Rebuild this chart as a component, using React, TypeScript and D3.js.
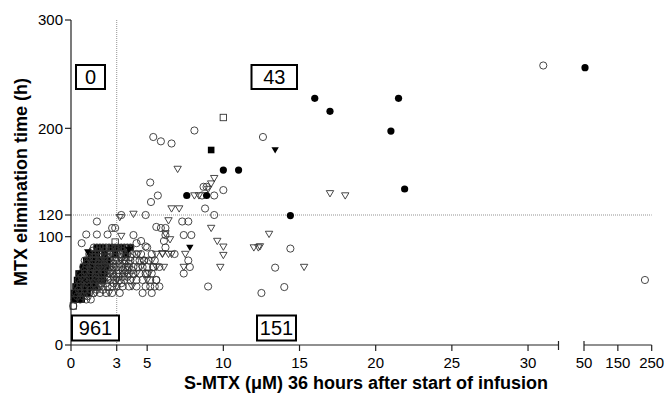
import React from "react";
import * as d3 from "d3";

// ---------- data ----------
type P = [number, number];

const yTicks = [0, 100, 120, 200, 300];
const xTicksLeft = [0, 3, 5, 10, 15, 20, 25, 30];
const xTicksRight = [50, 150, 250];
const quadrantLabels = ["0", "43", "961", "151"];
const xCut = 3;
const yCut = 120;

// dense cluster, one row per elimination time (h)
const clusterRowTimes = [36, 42, 48, 54, 60, 66, 72, 78, 84, 90];
const clusterFilledSquareX: number[][] = [
  [],
  [0.2, 0.35, 0.5, 0.7],
  [0.2, 0.35, 0.5, 0.65, 0.8, 0.95, 1.1],
  [0.3, 0.45, 0.6, 0.75, 0.9, 1.05, 1.2, 1.4, 1.6],
  [0.4, 0.55, 0.7, 0.85, 1.0, 1.15, 1.3, 1.5, 1.7, 1.9, 2.1],
  [0.5, 0.65, 0.8, 0.95, 1.1, 1.3, 1.5, 1.7, 1.9, 2.2],
  [0.8, 1.0, 1.2, 1.4, 1.6, 1.9, 2.3],
  [1.0, 1.3, 1.6, 2.0, 2.4],
  [1.3, 1.7, 2.2, 2.9, 3.6],
  [1.7, 2.1, 2.6, 3.0, 3.4, 3.9],
];
const clusterOpenCircleX: number[][] = [
  [0.15],
  [0.25, 0.6, 1.0, 1.3],
  [0.3, 0.6, 0.9, 1.2, 1.5, 1.9, 2.3, 2.7, 3.2],
  [0.4, 0.6, 0.9, 1.2, 1.5, 1.8, 2.1, 2.4, 2.7, 3.0, 3.4, 3.8, 4.3, 4.9],
  [0.5, 0.8, 1.0, 1.3, 1.6, 1.8, 2.1, 2.4, 2.6, 2.9, 3.2, 3.5, 3.9, 4.3, 4.7, 5.2, 5.6],
  [0.6, 0.9, 1.2, 1.4, 1.7, 2.0, 2.2, 2.5, 2.7, 3.0, 3.2, 3.5, 3.8, 4.1, 4.5, 4.9, 5.3],
  [0.8, 1.0, 1.3, 1.5, 1.8, 2.0, 2.3, 2.5, 2.8, 3.0, 3.3, 3.6, 3.8, 4.1, 4.4, 4.7, 5.0, 5.4, 5.8],
  [0.9, 1.1, 1.4, 1.6, 1.9, 2.1, 2.4, 2.6, 2.9, 3.1, 3.4, 3.6, 3.9, 4.2, 4.5, 4.8, 5.1, 5.5],
  [1.2, 1.4, 1.6, 1.8, 2.0, 2.3, 2.5, 2.8, 3.0, 3.2, 3.5, 3.7, 4.0, 4.3, 4.6],
  [1.5, 1.7, 1.9, 2.1, 2.3, 2.5, 2.7, 2.9, 3.1, 3.3, 3.5, 3.7, 3.9],
];
// in-between times (h) that thicken the cluster
const clusterMidTimes = [45, 51, 57, 63, 69, 75, 81, 87];
const clusterMidCircleX: number[][] = [
  [0.4, 0.8, 1.1],
  [0.5, 0.9, 1.3, 1.7, 2.1],
  [0.6, 1.1, 1.5, 1.9, 2.3, 2.8, 3.3],
  [0.7, 1.2, 1.6, 2.0, 2.4, 2.8, 3.1, 3.4, 3.7],
  [0.9, 1.3, 1.7, 2.1, 2.4, 2.7, 3.1, 3.4, 3.7, 4.0],
  [1.0, 1.4, 1.8, 2.2, 2.5, 2.8, 3.2, 3.5, 3.8],
  [1.2, 1.5, 1.9, 2.2, 2.6, 2.9, 3.3, 3.6, 3.9],
  [1.4, 1.8, 2.2, 2.6, 3.0, 3.4, 3.8],
];
const clusterOpenTriangleX: number[][] = [
  [],
  [],
  [1.6, 2.5],
  [2.0, 3.0, 4.0],
  [1.9, 3.0, 4.0, 5.0],
  [1.6, 2.6, 3.6, 4.3, 5.1],
  [1.7, 2.7, 3.7, 4.6, 5.6],
  [2.2, 3.3, 4.7, 5.3],
  [2.6, 4.4, 6.0, 6.4, 6.6],
  [3.0, 3.8],
];

// scattered points
const openCircles: P[] = [
  [4.6, 96], [5.0, 90], [5.3, 84], [4.8, 78], [5.4, 72], [5.0, 66], [5.6, 60], [5.2, 54],
  [4.7, 48], [5.5, 54], [5.8, 54], [5.3, 48], [6.1, 96], [6.2, 90], [6.8, 84], [7.7, 78],
  [7.8, 72], [7.4, 66], [9.0, 54], [12.5, 48], [14.0, 53.5], [13.4, 71.4], [14.4, 89],
  [7.3, 114], [7.7, 114], [5.6, 109], [5.9, 108], [7.4, 101.5], [7.9, 101.5], [6.2, 101.5],
  [4.9, 120], [9.4, 120], [3.3, 120], [1.7, 114], [2.7, 108], [2.9, 108], [1.0, 102],
  [1.7, 102], [2.4, 102], [4.1, 101.5], [0.7, 94], [4.3, 94], [4.9, 91], [6.2, 108],
  [5.25, 132], [5.2, 150], [5.7, 138], [8.6, 138], [9.4, 138], [8.8, 126], [10.0, 143],
  [8.7, 146], [8.9, 146], [5.4, 192], [5.9, 188], [6.6, 186], [8.1, 198], [12.6, 192],
  [31.0, 258], [230, 60],
];
const openTriangles: P[] = [
  [4.1, 121], [3.2, 118], [6.2, 103], [6.5, 97.5], [6.0, 84.6], [6.4, 115], [9.2, 108],
  [13.0, 102.5], [9.6, 96], [10.0, 90.7], [10.0, 83], [12.0, 90], [12.3, 90], [12.4, 91],
  [5.6, 84], [7.5, 84], [7.4, 72], [6.1, 72], [9.8, 72], [15.3, 72], [6.6, 126], [7.1, 126],
  [7.0, 162.5], [9.4, 154], [9.2, 149], [9.0, 144], [8.1, 138], [8.4, 138], [17.0, 140],
  [18.0, 138], [3.3, 100.6],
];
const openSquares: P[] = [[10.0, 210], [0.15, 36], [2.9, 95]];
const filledCircles: P[] = [
  [7.6, 138], [8.9, 138], [10.0, 161.5], [11.0, 161.5], [14.4, 119.5], [16.0, 227.7],
  [17.0, 215.7], [21.5, 227.7], [21.0, 197.5], [21.9, 144], [53, 256],
];
const filledSquares: P[] = [[9.2, 180]];
const filledTriangles: P[] = [[13.4, 180], [7.8, 90], [1.1, 86], [3.8, 88]];

// ---------- layout ----------
const W = 664;
const H = 401;
const y = d3.scaleLinear().domain([0, 300]).range([345, 20]);
const xLeft = d3.scaleLinear().domain([0, 32]).range([71, 558.5]);
const xRight = d3.scaleLinear().domain([50, 250]).range([584, 651.7]);
const xPos = (v: number) => (v <= 40 ? xLeft(v) : xRight(v));

const boxes = [
  { x: 76, y: 65, w: 29, h: 24 },
  { x: 251.5, y: 65, w: 45.5, h: 24 },
  { x: 72, y: 315.5, w: 47, h: 25 },
  { x: 257, y: 315.5, w: 39, h: 25 },
];

const FONT = "'Liberation Sans', Arial, Helvetica, sans-serif";
const OPEN = "#333";

const rowsToPoints = (rows: number[][], times: number[]): P[] =>
  rows.flatMap((xs, i) => xs.map((v) => [v, times[i]] as P));

const triPath = (cx: number, cy: number) =>
  `M${cx - 3.7},${cy - 2.7}L${cx + 3.7},${cy - 2.7}L${cx},${cy + 3.6}Z`;

export default function App() {
  const oc = [
    ...rowsToPoints(clusterOpenCircleX, clusterRowTimes),
    ...rowsToPoints(clusterMidCircleX, clusterMidTimes),
    ...openCircles,
  ];
  const ot = [...rowsToPoints(clusterOpenTriangleX, clusterRowTimes), ...openTriangles];
  const fs = [...rowsToPoints(clusterFilledSquareX, clusterRowTimes), ...filledSquares];

  return (
    <svg
      width={W}
      height={H}
      style={{ position: "absolute", left: 0, top: 0, background: "#fff" }}
      fontFamily={FONT}
    >
      {/* reference lines */}
      <line x1={xLeft(xCut)} x2={xLeft(xCut)} y1={y(300)} y2={y(0)} stroke="#777" strokeWidth={0.8} strokeDasharray="1,1" />
      <line x1={xLeft(0)} x2={xRight(250)} y1={y(yCut)} y2={y(yCut)} stroke="#777" strokeWidth={0.8} strokeDasharray="1,1" />

      {/* filled squares under the open outlines */}
      {fs.map(([a, b], i) => (
        <rect key={"fs" + i} x={xPos(a) - 3.3} y={y(b) - 3.3} width={6.6} height={6.6} fill="#000" />
      ))}

      {/* open markers */}
      {oc.map(([a, b], i) => (
        <circle key={"oc" + i} cx={xPos(a)} cy={y(b)} r={3.6} fill="none" stroke={OPEN} strokeWidth={0.9} />
      ))}
      {ot.map(([a, b], i) => (
        <path key={"ot" + i} d={triPath(xPos(a), y(b))} fill="none" stroke={OPEN} strokeWidth={0.9} />
      ))}
      {openSquares.map(([a, b], i) => (
        <rect key={"os" + i} x={xPos(a) - 3.2} y={y(b) - 3.2} width={6.4} height={6.4} fill="none" stroke={OPEN} strokeWidth={0.9} />
      ))}

      {/* other filled markers */}
      {filledCircles.map(([a, b], i) => (
        <circle key={"fc" + i} cx={xPos(a)} cy={y(b)} r={3.6} fill="#000" />
      ))}
      {filledTriangles.map(([a, b], i) => (
        <path key={"ft" + i} d={triPath(xPos(a), y(b))} fill="#000" />
      ))}

      {/* y axis */}
      <line x1={71} x2={71} y1={y(300)} y2={y(0)} stroke="#222" strokeWidth={1.2} />
      {yTicks.map((t) => (
        <g key={"yt" + t}>
          <line x1={65} x2={71} y1={y(t)} y2={y(t)} stroke="#222" strokeWidth={1.2} />
          <text x={63} y={y(t)} dy="0.36em" textAnchor="end" fontSize={15}>
            {t}
          </text>
        </g>
      ))}

      {/* x axis, left segment */}
      <line x1={xLeft(0)} x2={xLeft(32)} y1={345} y2={345} stroke="#222" strokeWidth={1.2} />
      <line x1={xLeft(32)} x2={xLeft(32)} y1={341} y2={350} stroke="#222" strokeWidth={1.2} />
      {xTicksLeft.map((t) => (
        <g key={"xl" + t}>
          <line x1={xLeft(t)} x2={xLeft(t)} y1={345} y2={351} stroke="#222" strokeWidth={1.2} />
          <text x={xLeft(t)} y={368} textAnchor="middle" fontSize={15}>
            {t}
          </text>
        </g>
      ))}
      {/* x axis, right segment */}
      <line x1={xRight(50)} x2={xRight(250)} y1={345} y2={345} stroke="#222" strokeWidth={1.2} />
      {xTicksRight.map((t, i) => (
        <g key={"xr" + t}>
          <line x1={xRight(t)} x2={xRight(t)} y1={i === 0 ? 341 : 345} y2={351} stroke="#222" strokeWidth={1.2} />
          <text x={xRight(t)} y={368} textAnchor="middle" fontSize={15}>
            {t}
          </text>
        </g>
      ))}

      {/* quadrant count boxes */}
      {quadrantLabels.map((lab, i) => {
        const b = boxes[i];
        return (
          <g key={"b" + i}>
            <rect x={b.x} y={b.y} width={b.w} height={b.h} fill="#fff" stroke="#000" strokeWidth={2} />
            <text x={b.x + b.w / 2} y={b.y + b.h / 2} dy="0.36em" textAnchor="middle" fontSize={20}>
              {lab}
            </text>
          </g>
        );
      })}

      {/* axis titles */}
      <text x={366} y={389} textAnchor="middle" fontSize={18} fontWeight="bold">
        S-MTX (μM) 36 hours after start of infusion
      </text>
      <text transform="translate(27,182) rotate(-90)" textAnchor="middle" fontSize={18} fontWeight="bold">
        MTX elimination time (h)
      </text>
    </svg>
  );
}
